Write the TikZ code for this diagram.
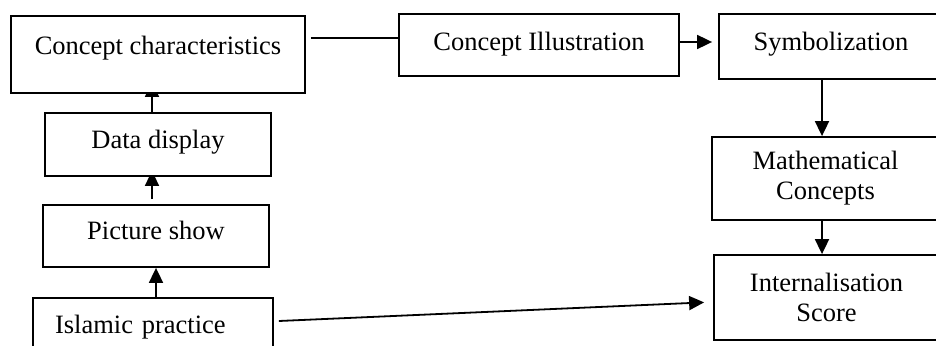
\documentclass[tikz,border=0pt]{standalone}
\usepackage{fontspec}
\setmainfont{Liberation Serif}
\usetikzlibrary{arrows.meta,calc}
\pgfdeclarelayer{bg}
\pgfsetlayers{bg,main}
\tikzset{
  box/.style={draw, line width=1.8pt, fill=white, inner sep=0pt,
    font=\fontsize{26.5}{30}\selectfont, align=center},
  onerow/.style={text height=18pt, text depth=#1},
  conn/.style={line width=1.8pt},
  arr/.style={line width=1.8pt, -{Triangle[length=15pt,width=14pt]}}
}
\begin{document}
\begin{tikzpicture}[x=1pt,y=-1pt]
\useasboundingbox (0,0) rectangle (936,345);
\clip (0,0) rectangle (936,345);

% left column
\node[box, onerow=18pt, minimum width=294pt, minimum height=77pt] (cc) at (158,54.5) {Concept characteristics};
\node[box, onerow=11pt, minimum width=226pt, minimum height=63pt] (dd) at (158,144.5) {Data display};
\node[box, onerow=12pt, minimum width=226pt, minimum height=62pt] (ps) at (156,236) {Picture show};
\node[box, onerow=6pt, text width=196pt, align=left, inner xsep=22pt, minimum height=58pt] (isl) at (153,327) {Islamic practice};

% top row and right column
\node[box, onerow=6pt, minimum width=280pt, minimum height=62pt] (ci) at (539,45) {Concept Illustration};
\node[box, onerow=9pt, minimum width=224pt, minimum height=65pt] (sym) at (831,46.5) {Symbolization};
\node[box, minimum width=227pt, minimum height=83pt] (math) at (825.5,178.5) {Mathematical\\Concepts};
\node[box, minimum width=225pt, minimum height=85pt] (intern) at (826.5,297.5) {Internalisation\\Score};

% columns of the vertical connectors
\coordinate (colL) at (152,0);
\coordinate (colM) at (156,0);
\coordinate (colR) at (822,0);

\begin{pgfonlayer}{bg}
  \draw[conn] ([xshift=5pt,yshift=16.5pt]cc.east) -- ([yshift=16.5pt]cc.east -| ci.west);
  \draw[arr, shorten >=6pt] ([yshift=3pt]ci.east) -- ([yshift=3pt]ci.east -| sym.west);
  \draw[arr] (sym.south -| colR) -- (math.north -| colR);
  \draw[arr] (math.south -| colR) -- (intern.north -| colR);
  \draw[arr, shorten >=-12pt] (dd.north -| colL) -- (cc.south -| colL);
  \draw[arr, shorten >=-6pt, shorten <=5pt] (ps.north -| colL) -- (dd.south -| colL);
  \draw[arr] (isl.north -| colM) -- (ps.south -| colM);
  \draw[arr, shorten >=9pt] ([xshift=5pt,yshift=6pt]isl.east) -- ([yshift=-4.5pt]intern.west);
\end{pgfonlayer}
\end{tikzpicture}
\end{document}
